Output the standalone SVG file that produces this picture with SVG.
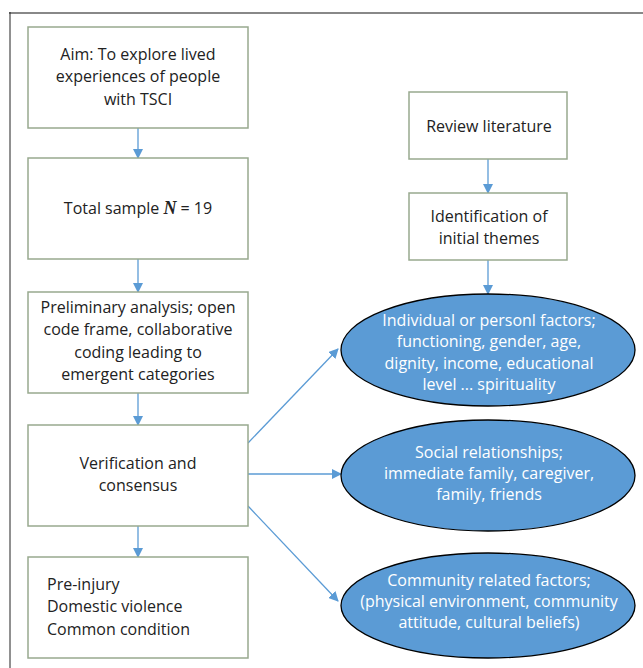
<svg xmlns="http://www.w3.org/2000/svg" width="643" height="668" viewBox="0 0 643 668">
<defs>
<marker id="ah" markerWidth="10" markerHeight="10" refX="9" refY="5" orient="auto" markerUnits="userSpaceOnUse">
<path d="M0,0 L10,5 L0,10 Z" fill="#5b9bd5"/>
</marker>
<style>
.box{fill:#fff;stroke:#98a98e;stroke-width:1.5}
.ell{fill:#5b9bd5;stroke:#000;stroke-width:1.3}
.t{font-family:"Open Sans","Liberation Sans",Arial,sans-serif;font-size:16px;fill:#222;text-anchor:middle}
.tl{text-anchor:start}
.w{fill:#fff}
.c{stroke:#5b9bd5;stroke-width:1.3;fill:none;marker-end:url(#ah)}
</style>
</defs>
<rect width="643" height="668" fill="#fff"/>
<line x1="9" y1="13" x2="643" y2="13" stroke="#888" stroke-width="2"/>
<line x1="10" y1="12" x2="10" y2="668" stroke="#222" stroke-width="1"/>
<g id="connectors">
<line class="c" x1="138" y1="128" x2="138" y2="158"/>
<line class="c" x1="138" y1="259" x2="138" y2="292"/>
<line class="c" x1="138" y1="393" x2="138" y2="425"/>
<line class="c" x1="138" y1="526" x2="138" y2="557"/>
<line class="c" x1="488" y1="159" x2="488" y2="193"/>
<line class="c" x1="488" y1="260" x2="488" y2="294"/>
<line class="c" x1="248" y1="443" x2="338" y2="349"/>
<line class="c" x1="248" y1="474" x2="341" y2="474"/>
<line class="c" x1="248" y1="506" x2="338" y2="601"/>
</g>
<g id="aim">
<rect class="box" x="28" y="27" width="220" height="101"/>
<text class="t" x="138" y="60">Aim: To explore lived</text>
<text class="t" x="138" y="82">experiences of people</text>
<text class="t" x="138" y="105">with TSCI</text>
</g>
<g id="sample">
<rect class="box" x="28" y="158" width="220" height="101"/>
<text class="t" x="138" y="214">Total sample <tspan font-family="Liberation Serif,serif" font-style="italic" font-weight="bold" font-size="18">N</tspan> = 19</text>
</g>
<g id="prelim">
<rect class="box" x="28" y="292" width="220" height="101"/>
<text class="t" x="138" y="313">Preliminary analysis; open</text>
<text class="t" x="138" y="335">code frame, collaborative</text>
<text class="t" x="138" y="358">coding leading to</text>
<text class="t" x="138" y="380">emergent categories</text>
</g>
<g id="verify">
<rect class="box" x="28" y="425" width="220" height="101"/>
<text class="t" x="138" y="469">Verification and</text>
<text class="t" x="138" y="491">consensus</text>
</g>
<g id="preinjury">
<rect class="box" x="28" y="557" width="220" height="101"/>
<text class="t tl" x="47" y="590">Pre-injury</text>
<text class="t tl" x="47" y="612">Domestic violence</text>
<text class="t tl" x="47" y="635">Common condition</text>
</g>
<g id="review">
<rect class="box" x="409" y="92" width="158" height="67"/>
<text class="t" x="489" y="132">Review literature</text>
</g>
<g id="identify">
<rect class="box" x="409" y="193" width="158" height="67"/>
<text class="t" x="489" y="222">Identification of</text>
<text class="t" x="489" y="244">initial themes</text>
</g>
<g id="individual">
<ellipse class="ell" cx="488" cy="350" rx="147" ry="56"/>
<text class="t w" x="489" y="326">Individual or personl factors;</text>
<text class="t w" x="489" y="347">functioning, gender, age,</text>
<text class="t w" x="489" y="369">dignity, income, educational</text>
<text class="t w" x="489" y="390">level ... spirituality</text>
</g>
<g id="social">
<ellipse class="ell" cx="488" cy="475.5" rx="147" ry="55.5"/>
<text class="t w" x="489" y="458">Social relationships;</text>
<text class="t w" x="489" y="479">immediate family, caregiver,</text>
<text class="t w" x="489" y="500">family, friends</text>
</g>
<g id="community">
<ellipse class="ell" cx="488" cy="605.5" rx="147" ry="52.5"/>
<text class="t w" x="489" y="586">Community related factors;</text>
<text class="t w" x="489" y="607">(physical environment, community</text>
<text class="t w" x="489" y="628">attitude, cultural beliefs)</text>
</g>
</svg>
